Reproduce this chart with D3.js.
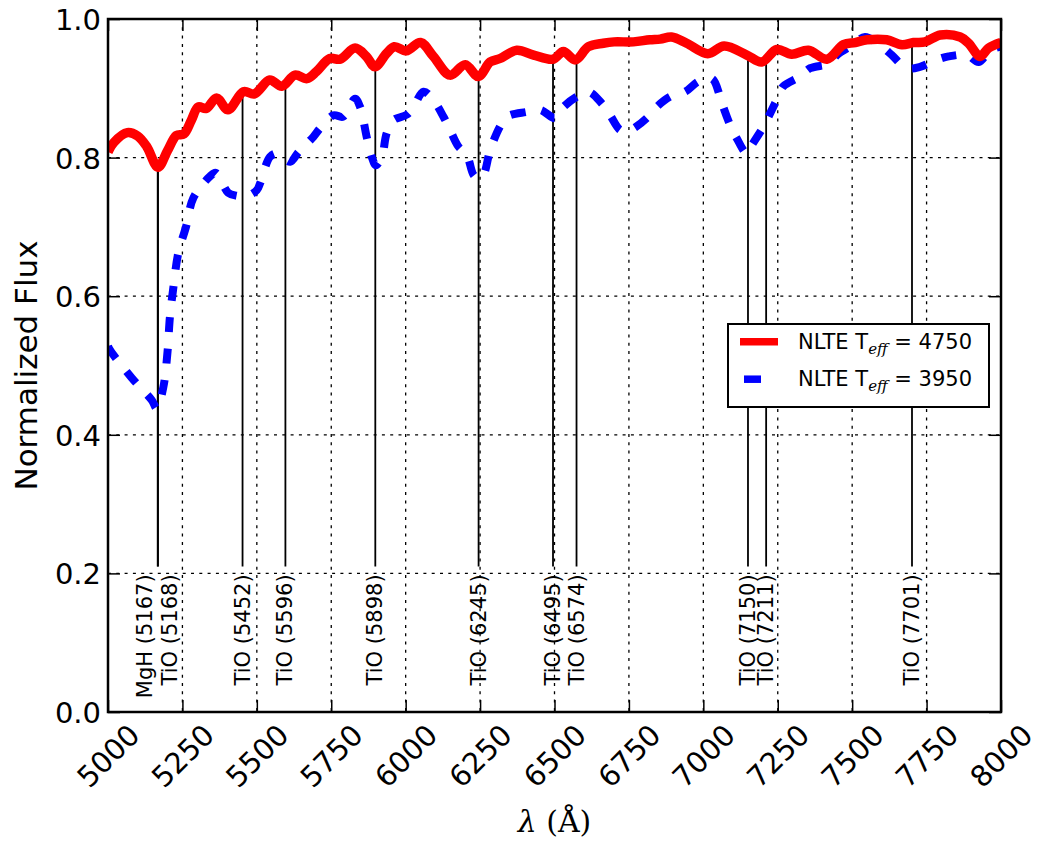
<!DOCTYPE html>
<html>
<head>
<meta charset="utf-8">
<script src="https://cdnjs.cloudflare.com/ajax/libs/d3/7.8.5/d3.min.js"></script>
<style>
body { margin: 0; background: #fff; }
svg text { font-family: "DejaVu Sans", sans-serif; fill: #000; }
</style>
</head>
<body>
<div id="chart"></div>
<script>
// NLTE Teff = 4750 (red)
var waveHot = [5000, 5020, 5065, 5100, 5130, 5168, 5200, 5230, 5255, 5280, 5303, 5330, 5365, 5403, 5455, 5492,
	5543, 5584, 5628, 5668, 5700, 5745, 5780, 5830, 5868, 5897, 5935, 5962, 6002, 6050, 6093, 6149, 6200, 6244,
	6284, 6317, 6373, 6430, 6495, 6530, 6570, 6614, 6664, 6700, 6765, 6820, 6855, 6893, 6944, 7015, 7070, 7146,
	7196, 7247, 7297, 7353, 7415, 7471, 7510, 7550, 7616, 7667, 7706, 7745, 7796, 7863, 7891, 7930, 7958, 8000];
var fluxHot = [0.808, 0.822, 0.836, 0.831, 0.816, 0.786, 0.810, 0.832, 0.834, 0.854, 0.873, 0.871, 0.886, 0.869, 0.895, 0.892,
	0.912, 0.903, 0.919, 0.914, 0.924, 0.943, 0.942, 0.958, 0.946, 0.931, 0.950, 0.960, 0.954, 0.966, 0.946, 0.919, 0.934, 0.917,
	0.938, 0.943, 0.955, 0.948, 0.942, 0.953, 0.941, 0.960, 0.965, 0.967, 0.967, 0.970, 0.971, 0.974, 0.965, 0.950, 0.961, 0.948,
	0.938, 0.956, 0.949, 0.955, 0.942, 0.963, 0.966, 0.970, 0.970, 0.963, 0.966, 0.967, 0.977, 0.974, 0.965, 0.946, 0.958, 0.966];

// NLTE Teff = 3950 (blue, dashed)
var waveCool = [5000, 5007, 5080, 5147, 5164, 5186, 5200, 5208, 5220, 5236, 5262, 5287, 5343, 5362, 5404, 5432, 5465, 5500,
	5511, 5544, 5567, 5612, 5640, 5690, 5712, 5757, 5790, 5830, 5847, 5869, 5886, 5900, 5920, 5936, 5959, 6004, 6026, 6060,
	6093, 6127, 6149, 6177, 6205, 6228, 6244, 6261, 6284, 6317, 6340, 6407, 6452, 6502, 6525, 6575, 6614, 6659, 6687, 6720,
	6743, 6765, 6810, 6843, 6889, 6939, 6984, 7029, 7056, 7067, 7090, 7112, 7146, 7163, 7208, 7219, 7252, 7269, 7325, 7359,
	7426, 7449, 7504, 7543, 7600, 7633, 7683, 7728, 7784, 7824, 7886, 7925, 7964, 8000];
var fluxCool = [0.528, 0.522, 0.482, 0.450, 0.438, 0.469, 0.520, 0.570, 0.614, 0.662, 0.700, 0.742, 0.773, 0.778, 0.749, 0.745, 0.744, 0.753,
	0.763, 0.801, 0.806, 0.794, 0.808, 0.830, 0.842, 0.861, 0.859, 0.885, 0.873, 0.830, 0.801, 0.789, 0.801, 0.835, 0.854, 0.862, 0.873, 0.895,
	0.883, 0.859, 0.840, 0.816, 0.804, 0.775, 0.770, 0.775, 0.811, 0.845, 0.859, 0.866, 0.869, 0.857, 0.871, 0.888, 0.895, 0.878, 0.861, 0.840,
	0.838, 0.842, 0.857, 0.873, 0.888, 0.895, 0.910, 0.914, 0.888, 0.873, 0.847, 0.828, 0.806, 0.818, 0.849, 0.859, 0.888, 0.903, 0.917, 0.929,
	0.936, 0.948, 0.963, 0.974, 0.960, 0.948, 0.929, 0.931, 0.941, 0.946, 0.948, 0.938, 0.955, 0.960];

// marked lines and where their labels sit (in wavelength)
var lineWaves = [5167, 5168, 5452, 5596, 5898, 6245, 6495, 6574, 7150, 7211, 7701];
var lineSpecies = ["MgH", "TiO", "TiO", "TiO", "TiO", "TiO", "TiO", "TiO", "TiO", "TiO", "TiO"];
var labelWaves = [5124, 5208, 5452, 5596, 5898, 6245, 6495, 6574, 7150, 7211, 7701];

var xTicks = d3.range(5000, 8001, 250);
var yTicks = [0, 0.2, 0.4, 0.6, 0.8, 1.0];
var seriesTeff = ["4750", "3950"];
var seriesColors = ["#ff0000", "#0000ff"];

var plotLeft = 108, plotRight = 1001, plotTop = 19, plotBottom = 712;

var svg = d3.select("#chart")
  .append("svg")
    .attr("width", 1042)
    .attr("height", 846);

var x = d3.scaleLinear().domain([5000, 8000]).range([plotLeft, plotRight]);
var y = d3.scaleLinear().domain([0, 1]).range([plotBottom, plotTop]);

svg.append("clipPath")
    .attr("id", "plotclip")
  .append("rect")
    .attr("x", plotLeft)
    .attr("y", plotTop)
    .attr("width", plotRight - plotLeft)
    .attr("height", plotBottom - plotTop);

//grid
svg.append("g").selectAll("line")
    .data(xTicks)
  .enter().append("line")
    .attr("x1", function(d) { return x(d); })
    .attr("x2", function(d) { return x(d); })
    .attr("y1", plotTop)
    .attr("y2", plotBottom)
    .style("stroke", "black")
    .style("stroke-width", "1.3px")
    .style("stroke-dasharray", "3,5.3");
svg.append("g").selectAll("line")
    .data(yTicks)
  .enter().append("line")
    .attr("x1", plotLeft)
    .attr("x2", plotRight)
    .attr("y1", function(d) { return y(d); })
    .attr("y2", function(d) { return y(d); })
    .style("stroke", "black")
    .style("stroke-width", "1.3px")
    .style("stroke-dasharray", "3,5.3");

//flux of the hot model at a given wavelength, for the top of the marker lines
function hotFluxAt(w) {
	var i = d3.bisectLeft(waveHot, w);
	if (i <= 0) return fluxHot[0];
	if (i >= waveHot.length) return fluxHot[fluxHot.length - 1];
	var t = (w - waveHot[i - 1]) / (waveHot[i] - waveHot[i - 1]);
	return fluxHot[i - 1] + t * (fluxHot[i] - fluxHot[i - 1]);
}

//marker lines
svg.append("g").selectAll("line")
    .data(lineWaves)
  .enter().append("line")
    .attr("x1", function(d) { return x(d); })
    .attr("x2", function(d) { return x(d); })
    .attr("y1", y(0.21))
    .attr("y2", function(d) { return y(hotFluxAt(d)); })
    .style("stroke", "black")
    .style("stroke-width", "1.8px");

svg.append("g").selectAll("text")
    .data(lineWaves)
  .enter().append("text")
    .attr("transform", function(d, i) {
		return "translate(" + x(labelWaves[i]) + "," + (y(0.2) + 1) + ") rotate(-90)";
    })
    .attr("text-anchor", "end")
    .attr("dominant-baseline", "central")
    .style("font-size", "21px")
    .text(function(d, i) { return lineSpecies[i] + " (" + d + ")"; });

//spectra
var line = d3.line()
    .x(function(d) { return x(d[0]); })
    .y(function(d) { return y(d[1]); })
    .curve(d3.curveCatmullRom.alpha(0.5));

var plot = svg.append("g").attr("clip-path", "url(#plotclip)");
plot.append("path")
    .datum(d3.zip(waveCool, fluxCool))
    .attr("d", line)
    .style("fill", "none")
    .style("stroke", seriesColors[1])
    .style("stroke-width", "8px")
    .style("stroke-dasharray", "15,16.5");
plot.append("path")
    .datum(d3.zip(waveHot, fluxHot))
    .attr("d", line)
    .style("fill", "none")
    .style("stroke", seriesColors[0])
    .style("stroke-width", "9.5px")
    .style("stroke-linejoin", "round");

//axes, ticks point inward
var gx = svg.append("g")
    .attr("transform", "translate(0," + plotBottom + ")")
    .call(d3.axisBottom(x).tickValues(xTicks).tickSize(-12).tickFormat(d3.format("d")));
gx.selectAll("text")
    .attr("y", null)
    .attr("dy", null)
    .attr("transform", "translate(0,44) rotate(-45)")
    .attr("text-anchor", "middle")
    .attr("dominant-baseline", "central")
    .style("font-size", "29px");

var gy = svg.append("g")
    .attr("transform", "translate(" + plotLeft + ",0)")
    .call(d3.axisLeft(y).tickValues(yTicks).tickSize(-12).tickPadding(7).tickFormat(d3.format(".1f")));
gy.selectAll("text")
    .attr("dy", "0.36em")
    .style("font-size", "29px");

svg.append("g")
    .attr("transform", "translate(0," + plotTop + ")")
    .call(d3.axisTop(x).tickValues(xTicks).tickSize(-12).tickFormat(""));
svg.append("g")
    .attr("transform", "translate(" + plotRight + ",0)")
    .call(d3.axisRight(y).tickValues(yTicks).tickSize(-12).tickFormat(""));

svg.selectAll(".domain").remove();
svg.selectAll(".tick line")
    .style("stroke", "black")
    .style("stroke-width", "1.5px");
svg.selectAll(".tick text").attr("fill", "black").style("font-family", "DejaVu Sans");

svg.append("rect")
    .attr("x", plotLeft)
    .attr("y", plotTop)
    .attr("width", plotRight - plotLeft)
    .attr("height", plotBottom - plotTop)
    .style("fill", "none")
    .style("stroke", "black")
    .style("stroke-width", "2.5px");

//axis titles
svg.append("text")
    .attr("transform", "translate(37," + ((plotTop + plotBottom) / 2) + ") rotate(-90)")
    .attr("text-anchor", "middle")
    .style("font-size", "31px")
    .text("Normalized Flux");

var xl = svg.append("text")
    .attr("x", (plotLeft + plotRight) / 2)
    .attr("y", 832)
    .attr("text-anchor", "middle")
    .style("font-family", "DejaVu Serif")
    .style("font-size", "30px");
xl.append("tspan").style("font-style", "italic").text("λ");
xl.append("tspan").text(" (Å)");

//legend
var legend = svg.append("g");
legend.append("rect")
    .attr("x", 728)
    .attr("y", 324)
    .attr("width", 261)
    .attr("height", 83)
    .style("fill", "white")
    .style("stroke", "black")
    .style("stroke-width", "2px");

var rows = legend.selectAll("g.row")
    .data(seriesTeff)
  .enter().append("g")
    .attr("class", "row")
    .attr("transform", function(d, i) { return "translate(0," + (i * 37.5) + ")"; });

rows.append("line")
    .attr("x1", function(d, i) { return i == 0 ? 740 : 744; })
    .attr("x2", function(d, i) { return i == 0 ? 778 : 761; })
    .attr("y1", 341.7)
    .attr("y2", 341.7)
    .style("stroke", function(d, i) { return seriesColors[i]; })
    .style("stroke-width", "7.5px");

var lt = rows.append("text")
    .attr("x", 798)
    .attr("y", 348.5)
    .style("font-size", "21px");
lt.append("tspan").text("NLTE T");
lt.append("tspan")
    .attr("dy", 5)
    .style("font-family", "DejaVu Serif")
    .style("font-style", "italic")
    .style("font-size", "15px")
    .text("eff");
lt.append("tspan")
    .attr("dy", -5)
    .text(function(d) { return " = " + d; });
</script>
</body>
</html>
